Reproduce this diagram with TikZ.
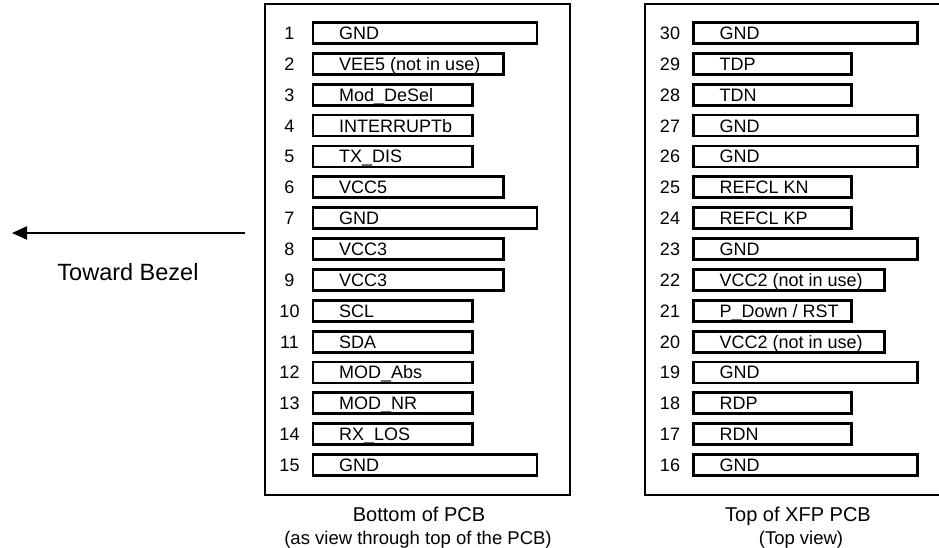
\documentclass[tikz,border=0pt]{standalone}
\usepackage{fontspec}
\setmainfont{Liberation Sans}
\usetikzlibrary{
  arrows.meta,
  positioning
}
\newcommand{\pinRow}[5]{%
  \pgfmathsetmacro{\pinY}{33+30.86*#5}
  \pgfmathsetmacro{\pinW}{#4-#3}
  \node[pinBox=\pinW pt] (p#1) at (#3,\pinY) {};
  \node[pinNum] (n#1) at ([xshift=-22pt]p#1.west) {#1};
  \node[pinText, right=27.5pt of p#1.west] (t#1) {#2};
}
\tikzset{
  board/.style={
    draw,
    line width=2.8pt,
    minimum width=305pt,
    minimum height=491pt,
    inner sep=0pt
  }
}
\tikzset{
  pinBox/.style={
    draw,
    rectangle,
    line width=2.8pt,
    anchor=west,
    minimum width=#1,
    minimum height=21pt,
    inner sep=0pt
  }
}
\tikzset{
  pinNum/.style={
    font=\fontsize{18}{20}\selectfont,
    inner sep=0pt,
    text height=12.9pt,
    text depth=0pt
  },
  pinText/.style={pinNum}
}
\tikzset{
  caption/.style={
    anchor=base,
    inner sep=0pt,
    font=\fontsize{20}{22}\selectfont
  }
}

\begin{document}
\begin{tikzpicture}[x=1pt, y=-1pt, >={Triangle[length=15pt,width=13pt]}]
    \useasboundingbox (0,0) rectangle (939,548);
    \node[board] (bottomSide) at (417.5,249.5) {};
    \node[board, minimum width=301pt] (topSide) at (795.5,249.5) {};
    \foreach \Num/\Label/\Right [count=\i from 0] in {1/GND/535.5,
      2/VEE5 (not in use)/502, 3/Mod\_DeSel/471, 4/INTERRUPTb/471,
      5/TX\_DIS/471, 6/VCC5/502, 7/GND/535.5, 8/VCC3/502, 9/VCC3/502,
      10/SCL/471, 11/SDA/471, 12/MOD\_Abs/471, 13/MOD\_NR/471,
      14/RX\_LOS/471, 15/GND/535.5}{
      \pinRow{\Num}{\Label}{311.5}{\Right}{\i}
    }
    \foreach \Num/\Label/\Right [count=\i from 0] in {30/GND/916,
      29/TDP/850, 28/TDN/850, 27/GND/916, 26/GND/916, 25/REFCL KN/850,
      24/REFCL KP/850, 23/GND/916, 22/VCC2 (not in use)/883,
      21/{P\_Down / RST}/850, 20/VCC2 (not in use)/883, 19/GND/916,
      18/RDP/850, 17/RDN/850, 16/GND/916}{
      \pinRow{\Num}{\Label}{692}{\Right}{\i}
    }
    \node[caption] (bottomTitle) at (419,521) {Bottom of PCB};
    \node[caption, font=\fontsize{18.5}{20}\selectfont] (bottomNote) at (418,544)
      {(as view through top of the PCB)};
    \node[caption] (topTitle) at (798,521) {Top of XFP PCB};
    \node[caption, font=\fontsize{18.5}{20}\selectfont] (topNote) at (801,544)
      {(Top view)};
    \coordinate (arrowStart) at (245,233);
    \coordinate (arrowEnd) at (12,233);
    \draw[->, line width=2pt] (arrowStart) -- (arrowEnd);
    \node[font=\fontsize{23.5}{25}\selectfont, inner sep=0pt] (bezel) at (128,272)
      {Toward Bezel};
  \end{tikzpicture}
\end{document}
